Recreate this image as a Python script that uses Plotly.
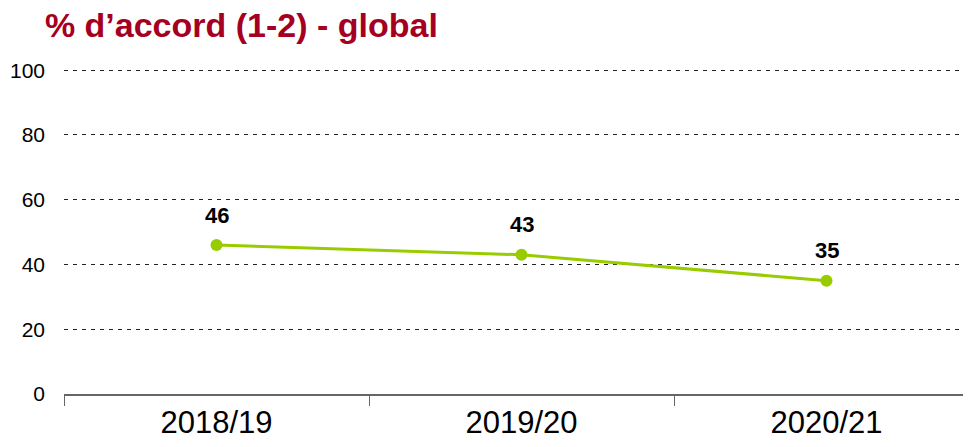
import plotly.graph_objects as go

categories = ["2018/19", "2019/20", "2020/21"]
values = [46, 43, 35]
y_ticks = [0, 20, 40, 60, 80, 100]
title_text = "% d’accord (1-2) - global"

FONT = "Liberation Sans, Arial, sans-serif"

fig = go.Figure()
fig.add_trace(go.Scatter(
    x=categories, y=values, mode="lines+markers",
    line=dict(color="#99CC00", width=3),
    marker=dict(color="#99CC00", size=12),
    hoverinfo="skip", showlegend=False,
))
for c, v in zip(categories, values):
    fig.add_annotation(x=c, y=v, text=f"<b>{v}</b>", showarrow=False,
                       yshift=30, font=dict(family=FONT, size=22, color="#000000"))

fig.update_layout(
    width=971, height=447,
    margin=dict(l=56, r=0, t=59, b=61),
    paper_bgcolor="white", plot_bgcolor="white",
    title=dict(text=f"<b>{title_text}</b>", x=0.038, xanchor="left", y=0.962, yanchor="middle",
               font=dict(family=FONT, size=34, color="#A50021")),
    xaxis=dict(type="category", range=[-0.5, 2.5], tickson="boundaries",
               ticks="outside", ticklen=10, tickcolor="#666666", tickwidth=1,
               showline=True, linecolor="#666666", linewidth=1.5,
               showgrid=False, tickfont=dict(family=FONT, size=31, color="#000000")),
    yaxis=dict(range=[0, 101], tickvals=y_ticks, showgrid=True, gridcolor="#222222",
               griddash="4px,5px", gridwidth=1, zeroline=False, showline=False,
               ticks="", ticklabelstandoff=18,
               tickfont=dict(family=FONT, size=21, color="#000000")),
)
fig.write_html("out.html")
